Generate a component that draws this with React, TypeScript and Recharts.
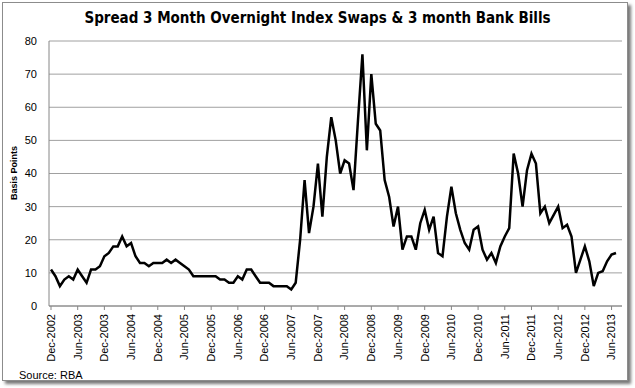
import { CartesianGrid, Line, LineChart, XAxis, YAxis } from "recharts";

const START_YEAR = 2002;
const START_MONTH = 11; // Dec
const MONTH_NAMES = ["Jan", "Feb", "Mar", "Apr", "May", "Jun", "Jul", "Aug", "Sep", "Oct", "Nov", "Dec"];

// spread in basis points, monthly from Dec-2002
const spread = [
  11, 9, 6, 8, 9, 8, 11, 9, 7, 11, 11, 12, 15, 16, 18, 18, 21, 18, 19, 15,
  13, 13, 12, 13, 13, 13, 14, 13, 14, 13, 12, 11, 9, 9, 9, 9, 9, 9, 8, 8,
  7, 7, 9, 8, 11, 11, 9, 7, 7, 7, 6, 6, 6, 6, 5, 7, 20, 38, 22, 30,
  43, 27, 45, 57, 50, 40, 44, 43, 35, 56, 76, 47, 70, 55, 53, 38, 33, 24, 30, 17,
  21, 21, 17, 25, 29, 23, 27, 16, 15, 27, 36, 28, 23, 19, 17, 23, 24, 17, 14, 16,
  13, 18, 21, 23.5, 46, 40, 30, 41, 46, 43, 28, 30, 25, 27.5, 30, 23.5, 24.5, 21, 10, 14,
  18, 13.5, 6, 10, 10.5, 13.5, 15.5, 16
];

const yTicks = [0, 10, 20, 30, 40, 50, 60, 70, 80];

const months = spread.map((_, i) => {
  const m = START_MONTH + i;
  return `${MONTH_NAMES[m % 12]}-${START_YEAR + Math.floor(m / 12)}`;
});

const data = months.map((month, i) => ({ month, spread: spread[i] }));

const AXIS_GREY = "#868686";
const FONT = "'Liberation Sans', Arial, sans-serif";

function MonthTick({ x, y, payload }: any) {
  return (
    <text
      x={x}
      y={y}
      dy="0.35em"
      textAnchor="end"
      transform={`rotate(-90, ${x}, ${y})`}
      fontSize={11}
      fontFamily={FONT}
      fill="#000"
    >
      {payload.value}
    </text>
  );
}

export default function App() {
  return (
    <div style={{ position: "absolute", left: 0, top: 0, width: 635, height: 388, background: "#fff", fontFamily: FONT }}>
      <div
        style={{
          position: "absolute",
          left: 2,
          top: 2,
          width: 624,
          height: 377,
          border: "1px solid #8c8c8c",
          boxShadow: "3px 3px 3px #777",
          background: "#fff"
        }}
      />
      <div
        style={{
          position: "absolute",
          left: 0,
          top: 9,
          width: 635,
          textAlign: "center",
          fontSize: 15,
          fontWeight: "bold",
          fontFamily: "'Liberation Sans Narrow', 'DejaVu Sans Condensed', 'Liberation Sans', sans-serif"
        }}
      >
        Spread 3 Month Overnight Index Swaps &amp; 3 month Bank Bills
      </div>
      <div
        style={{
          position: "absolute",
          left: 14,
          top: 173,
          transform: "translate(-50%, -50%) rotate(-90deg)",
          fontSize: 9,
          fontWeight: "bold",
          whiteSpace: "nowrap"
        }}
      >
        Basis Points
      </div>
      <div style={{ position: "absolute", left: 19, top: 369, fontSize: 11 }}>Source: RBA</div>
      <div style={{ position: "absolute", left: 0, top: 0 }}>
        <LineChart width={635} height={388} data={data} margin={{ top: 41, right: 13, left: 0, bottom: 0 }}>
          <CartesianGrid vertical={false} stroke="#a0a0a0" />
          <XAxis
            dataKey="month"
            interval={5}
            tick={<MonthTick />}
            tickSize={4}
            tickMargin={4}
            height={82}
            padding={{ left: 2, right: 6 }}
            stroke={AXIS_GREY}
            tickLine={{ stroke: AXIS_GREY }}
            axisLine={{ stroke: AXIS_GREY }}
          />
          <YAxis
            domain={[0, 80]}
            ticks={yTicks}
            width={49}
            tickLine={false}
            tickSize={6}
            tickMargin={6}
            axisLine={{ stroke: AXIS_GREY }}
            tick={{ fontSize: 11, fill: "#000", fontFamily: FONT }}
          />
          <Line
            type="linear"
            dataKey="spread"
            stroke="#000"
            strokeWidth={2.5}
            dot={false}
            isAnimationActive={false}
          />
        </LineChart>
      </div>
    </div>
  );
}
